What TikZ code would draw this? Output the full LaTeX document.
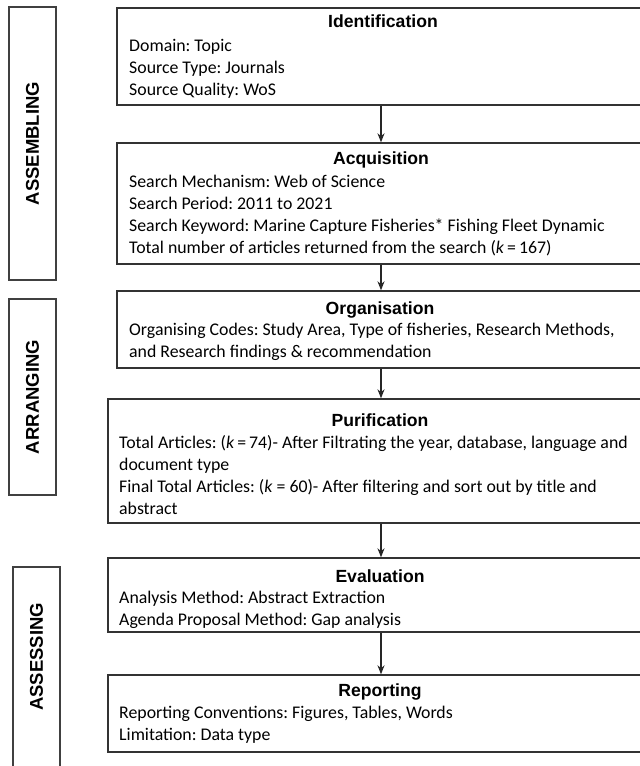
\documentclass[tikz,border=0pt]{standalone}
\usepackage{fontspec}
\setmainfont{Carlito}
\newfontfamily\titlefont{Liberation Sans}
\usetikzlibrary{arrows.meta}
\frenchspacing
\newcommand\bodylines[1]{\begin{tabular}[t]{@{}l@{}}#1\end{tabular}}
\tikzset{
  box/.style={draw=black!80, line width=1.4pt, rectangle, inner sep=0pt},
  sidebox/.style={draw=black!75, line width=1.4pt, rectangle, inner sep=0pt},
  sidelabel/.style={font=\titlefont\bfseries\fontsize{18.5pt}{20pt}\selectfont, rotate=90, inner sep=0pt},
  ttl/.style={font=\titlefont\bfseries\fontsize{17.6pt}{21pt}\selectfont, anchor=base, inner sep=0pt},
  body/.style={font=\frenchspacing\fontsize{17.8pt}{22pt}\selectfont, anchor=base west, inner sep=0pt},
  arr/.style={draw=black!85, line width=1.2pt, -{Stealth[length=9pt,width=7pt]}},
}
\begin{document}
\begin{tikzpicture}[x=1pt,y=-1pt]
\useasboundingbox (0,0) rectangle (640,766);
\clip (0,0) rectangle (640,766);
\fill[white] (0,0) rectangle (640,766);
% side boxes
\node[sidebox, minimum width=47pt, minimum height=273pt] (sa) at (32.5,143.5) {};
\node[sidelabel] (la) at (sa.center) {ASSEMBLING};
\node[sidebox, minimum width=47pt, minimum height=196pt] (sb) at (32.5,397) {};
\node[sidelabel] (lb) at (sb.center) {ARRANGING};
\node[sidebox, minimum width=47pt, minimum height=213pt] (sc) at (36.5,673.5) {};
\node[sidelabel] (lc) at (36.5,657) {ASSESSING};
% main boxes
\node[box, minimum width=528pt, minimum height=97pt] (b1) at (381,56.5) {};
\node[box, minimum width=528pt, minimum height=121pt] (b2) at (381,203.5) {};
\node[box, minimum width=528pt, minimum height=77pt] (b3) at (381,329.5) {};
\node[box, minimum width=546pt, minimum height=124pt] (b4) at (381,461) {};
\node[box, minimum width=546pt, minimum height=74pt] (b5) at (381,595) {};
\node[box, minimum width=546pt, minimum height=77pt] (b6) at (381,713.5) {};
% titles
\node[ttl] (t1) at (383,27.5) {Identification};
\node[ttl] (t2) at (381,164.5) {Acquisition};
\node[ttl] (t3) at (380,314.5) {Organisation};
\node[ttl] (t4) at (380,426.5) {Purification};
\node[ttl] (t5) at (380,582.5) {Evaluation};
\node[ttl] (t6) at (380,696.5) {Reporting};
% bodies
\node[body] (x1) at (129,51) {\bodylines{Domain: Topic\\Source Type: Journals\\Source Quality: WoS}};
\node[body] (x2) at (129,187) {\bodylines{Search Mechanism: Web of Science\\Search Period: 2011 to 2021\\Search Keyword: Marine Capture Fisheries* Fishing Fleet Dynamic\\Total number of articles returned from the search (\textit{k}\,=\,167)}};
\node[body] (x3) at (129,335.5) {\bodylines{Organising Codes: Study Area, Type of fisheries, Research Methods,\\and Research findings \& recommendation}};
\node[body] (x4) at (119,448.5) {\bodylines{Total Articles: (\textit{k}\,=\,74)- After Filtrating the year, database, language and\\document type\\Final Total Articles: (\textit{k} = 60)- After filtering and sort out by title and\\abstract}};
\node[body] (x5) at (119,603.5) {\bodylines{Analysis Method: Abstract Extraction\\Agenda Proposal Method: Gap analysis}};
\node[body] (x6) at (119,718.5) {\bodylines{Reporting Conventions: Figures, Tables, Words\\Limitation: Data type}};
% arrows
\draw[arr] (b1.south) -- (b2.north);
\draw[arr] (b2.south) -- (b3.north);
\draw[arr] (b3.south) -- (b4.north);
\draw[arr] (b4.south) -- (b5.north);
\draw[arr] (b5.south) -- (b6.north);
\end{tikzpicture}
\end{document}
